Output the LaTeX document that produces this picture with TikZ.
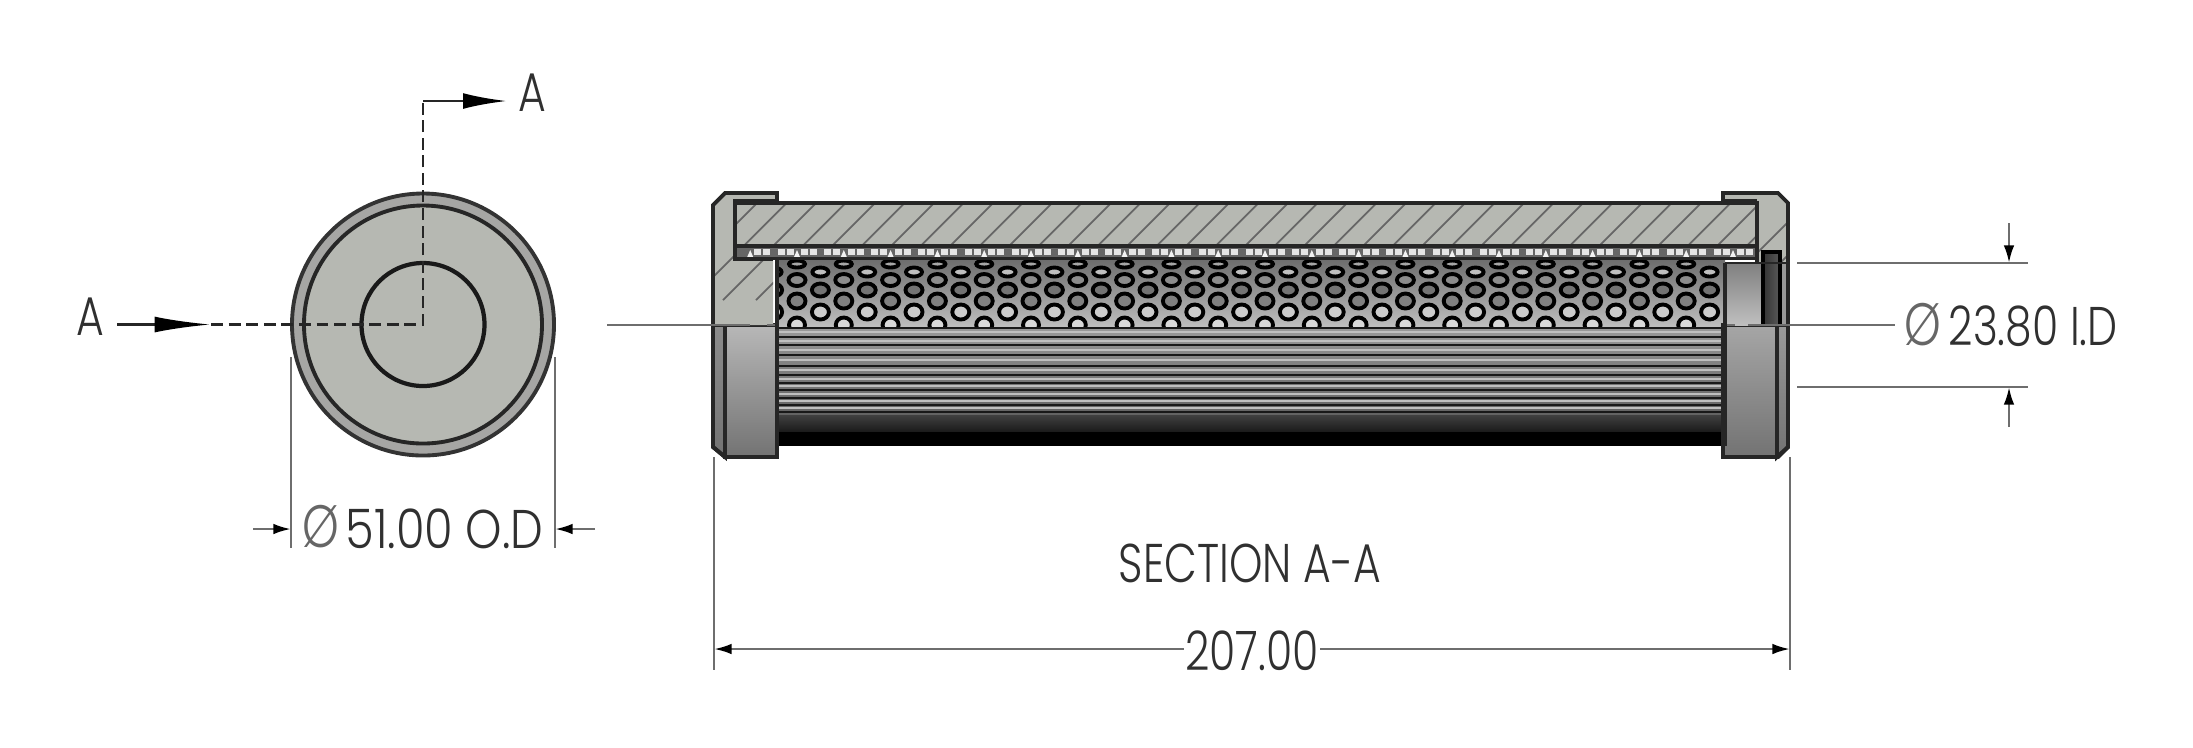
\documentclass[tikz,border=0pt]{standalone}
\usepackage{fontspec}
\setmainfont[FakeStretch=0.78,UprightFont=* Light]{Poppins}
\newfontfamily\widefont[FakeStretch=0.85,UprightFont=* Light]{Poppins}
\usetikzlibrary{arrows.meta}
\definecolor{bodygray}{HTML}{B6B8B2}
\definecolor{ringgray}{HTML}{A6A6A4}
\definecolor{dimgray}{HTML}{6E6E6E}
\definecolor{textgray}{HTML}{303030}
\tikzset{
	outline/.style={draw=black!85,line width=1.1pt},
	hatchline/.style={draw=black!60,line width=0.5pt},
	dimline/.style={draw=dimgray,line width=0.7pt},
	dimtip/.style={dimline,-{Latex[length=5pt,width=3pt,black]}},
	cutline/.style={draw=black!85,line width=0.8pt,dash pattern=on 3.4pt off 1.6pt},
	cuttip/.style={draw=black!85,line width=0.8pt,-{Latex[length=#1,width=4.5pt,black]}},
	dimtext/.style={text=textgray,font=\fontsize{15.5}{16}\selectfont,inner sep=0pt},
	symtext/.style={text=black!60,font=\fontsize{17}{18}\selectfont,inner sep=0pt},
	rib/.style={draw=black!90,line width=0.8pt},
	capshade/.style={top color=#1,bottom color=black!55,draw=black!85,line width=1.1pt}
}
\begin{document}
\begin{tikzpicture}[x=0.01cm,y=-0.01cm]
	\useasboundingbox (0,0) rectangle (2193,747);

	% end view
	\fill[ringgray] (423,324.5) circle (131);
	\draw[black!80,line width=1.1pt] (423,324.5) circle (131);
	\draw[black!85,fill=bodygray,line width=1.1pt] (423,324.5) circle (119);
	\draw[black!90,line width=1.2pt] (423,324.5) circle (61.5);

	% section line
	\coordinate (cutcorner) at (423,324.5);
	\coordinate (cutbend) at (423,101);
	\coordinate (cuttop) at (507,101);
	\coordinate (cutleft) at (211,324.5);
	\coordinate (cutstart) at (117,324.5);
	\draw[cutline] (cutleft) -- (cutcorner) -- (cutbend);
	\draw[cuttip=12.5pt] (cutbend) -- (cuttop);
	\draw[cuttip=16pt] (cutstart) -- (cutleft);
	\node[dimtext] (labeltop) at (532,93) {A};
	\node[dimtext] (labelleft) at (90,317) {A};

	% perforated part of the element
	\fill[top color=black!58,bottom color=black!25] (777,258) rectangle (1725,327);
	\begin{scope}
		\clip (777,259) rectangle (1725,327);
		\foreach \x in {797,843.8,...,1720} {
			\draw[black,line width=1.1pt,fill=black!35] (\x,264) ellipse (8 and 3.5);
			\draw[black,line width=1.1pt,fill=black!45] (\x,280) ellipse (8.5 and 6);
			\draw[black,line width=1.1pt,fill=black!50] (\x,301) ellipse (8.5 and 7.5);
			\draw[black,line width=1.1pt,fill=black!15] (\x,325) ellipse (8 and 7.5);
		}
		\foreach \x in {773.6,820.4,...,1730} {
			\draw[black,line width=1.1pt,fill=black!25] (\x,272) ellipse (8 and 4.5);
			\draw[black,line width=1.1pt,fill=black!55] (\x,290) ellipse (8.5 and 6.5);
			\draw[black,line width=1.1pt,fill=black!20] (\x,312) ellipse (8.5 and 7.5);
		}
	\end{scope}

	% ribbed part of the element
	\fill[top color=black!40,bottom color=black!62] (777,327) rectangle (1725,417);
	\fill[top color=black!75,bottom color=black!90] (777,415) rectangle (1725,432);
	\fill[black] (777,432) rectangle (1725,446);
	\foreach \y in {328,337,345,355,366,375,383,390,398,405,412} {
		\draw[rib] (777,\y) -- (1725,\y);
	}
	\foreach \y in {332,341,350,360,370,379,386,394,401,408} {
		\draw[black!25,line width=0.6pt] (777,\y) -- (1725,\y);
	}

	% lower halves of the end caps
	\draw[capshade=black!28] (725,325) -- (777,325) -- (777,457) -- (725,457) -- cycle;
	\draw[capshade=black!45] (713,325) -- (725,325) -- (725,457) -- (713,447) -- cycle;
	\draw[capshade=black!35] (1723,325) -- (1777,325) -- (1777,457) -- (1723,457) -- cycle;
	\draw[capshade=black!40] (1777,325) -- (1788,325) -- (1788,447) -- (1777,457) -- cycle;

	% bore of the right cap, above the axis
	\fill[top color=black!50,bottom color=black!25] (1725,263) rectangle (1763,325);
	\fill[black!40] (1780,263) rectangle (1788,325);

	% cut faces
	\fill[bodygray] (735,203) -- (1757,203) -- (1757,246) -- (735,246) -- cycle;
	\fill[bodygray] (713,205) -- (725,193) -- (777,193) -- (777,201) -- (735,201) -- (735,259) -- (773,259) -- (773,325) -- (713,325) -- cycle;
	\fill[bodygray] (1723,193) -- (1778,193) -- (1788,203) -- (1788,263) -- (1780,263) -- (1780,252) -- (1763,252) -- (1763,263) -- (1757,263) -- (1757,201) -- (1723,201) -- cycle;
	\begin{scope}
		\clip (735,203) rectangle (1757,246);
		\foreach \x in {700,729.5,...,1800} {
			\draw[hatchline] (\x,260) -- ++(70,-70);
		}
	\end{scope}
	\begin{scope}
		\clip (713,205) -- (725,193) -- (735,193) -- (735,259) -- (773,259) -- (773,325) -- (713,325) -- cycle;
		\foreach \x in {690,723,...,790} {
			\draw[hatchline] (\x,300) -- ++(120,-120);
		}
	\end{scope}
	\begin{scope}
		\clip (1757,193) rectangle (1788,263);
		\foreach \x in {1740,1773,...,1800} {
			\draw[hatchline] (\x,270) -- ++(80,-80);
		}
	\end{scope}

	% screen layer under the tube
	\fill[black!60] (735,246) rectangle (1757,258);
	\foreach \x in {750.2,773.6,...,1745} {
		\fill[black!10] (\x+4,249) rectangle ++(7,6);
		\fill[black!10] (\x+13,249) rectangle ++(7,6);
	}
	\foreach \x in {750.2,797,...,1750} {
		\fill[black!5] (\x-3,257) -- (\x,250) -- (\x+3,257) -- cycle;
	}

	% slot in the right cap
	\fill[left color=black!80,right color=black!65] (1763,252) rectangle (1780,325);
	\draw[black,line width=1pt] (1763,325) -- (1763,252) -- (1780,252) -- (1780,325);

	% outlines
	\draw[outline] (777,203) -- (777,193) -- (725,193) -- (713,205) -- (713,447) -- (725,457) -- (777,457) -- (777,446);
	\draw[outline] (1723,203) -- (1723,193) -- (1778,193) -- (1788,203) -- (1788,447) -- (1778,457) -- (1723,457) -- (1723,446);
	\draw[outline] (777,201) -- (735,201) -- (735,259) -- (773,259);
	\draw[outline] (735,203) -- (1757,203) -- (1757,262);
	\draw[outline] (735,246) -- (1757,246);
	\draw[outline] (735,258.5) -- (1757,258.5);
	\draw[outline] (777,259) -- (777,446);
	\draw[outline] (1725,263) -- (1725,446);
	\draw[outline] (1723,201) -- (1757,201);
	\draw[black!85,line width=0.8pt] (1725,263) -- (1788,263);

	% diameter 51
	\coordinate (odleft) at (291,357);
	\coordinate (odleftend) at (291,548);
	\coordinate (odright) at (555,357);
	\coordinate (odrightend) at (555,548);
	\draw[dimline] (odleft) -- (odleftend);
	\draw[dimline] (odright) -- (odrightend);
	\draw[dimtip] (253,529) -- (291,529);
	\draw[dimtip] (595,529) -- (555,529);
	\node[dimtext,font=\widefont\fontsize{15.5}{16}\selectfont,anchor=west] (odtext) at (345,529) {51.00 O.D};
	\node[symtext] (odsym) at (321,527) {Ø};

	% diameter 23.80
	\coordinate (idtop) at (1797,263);
	\coordinate (idtopend) at (2028,263);
	\coordinate (idbot) at (1797,387);
	\coordinate (idbotend) at (2028,387);
	\draw[dimline] (idtop) -- (idtopend);
	\draw[dimline] (idbot) -- (idbotend);
	\draw[dimtip] (2009,223) -- (2009,263);
	\draw[dimtip] (2009,427) -- (2009,387);
	\node[dimtext,anchor=west] (idtext) at (1948,326.5) {23.80 I.D};
	\node[symtext] (idsym) at (1923,325) {Ø};

	% centre line of the section
	\coordinate (axisleft) at (607,325);
	\coordinate (axisright) at (1895,325);
	\draw[dimline] (axisleft) -- (750,325);
	\draw[dimline] (767,325) -- (775,325);
	\draw[dimline] (1727,325) -- (1735,325);
	\draw[dimline] (1748,325) -- (axisright);

	% length 207
	\coordinate (lenleft) at (714,457);
	\coordinate (lenleftend) at (714,670);
	\coordinate (lenright) at (1790,457);
	\coordinate (lenrightend) at (1790,670);
	\draw[dimline] (lenleft) -- (lenleftend);
	\draw[dimline] (lenright) -- (lenrightend);
	\node[dimtext] (lentext) at (1252,650.5) {207.00};
	\draw[dimtip] (lentext.west) ++(-1,-1.5) -- (714,649);
	\draw[dimtip] (lentext.east) ++(1,-1.5) -- (1790,649);

	\node[dimtext] (sectitle) at (1250,563) {SECTION A-A};
\end{tikzpicture}
\end{document}
